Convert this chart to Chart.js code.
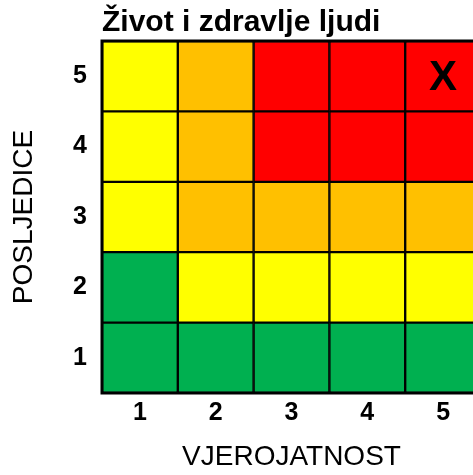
<!DOCTYPE html>
<html>
<head>
<meta charset="utf-8">
<script src="https://cdn.jsdelivr.net/npm/chart.js@4/dist/chart.umd.min.js"></script>
<style>
  html, body { margin: 0; padding: 0; background: #fff; overflow: hidden; }
</style>
</head>
<body>
<canvas id="matrica" width="484" height="475"></canvas>
<script>
// vjerojatnost (x) i posljedice (y)
var vjerojatnost = ["1", "2", "3", "4", "5"];
var posljedice = ["1", "2", "3", "4", "5"];

// razina rizika po redu posljedica (1 = nisko ... 4 = visoko)
var red1 = [1, 1, 1, 1, 1];
var red2 = [1, 2, 2, 2, 2];
var red3 = [2, 3, 3, 3, 3];
var red4 = [2, 3, 4, 4, 4];
var red5 = [2, 3, 4, 4, 4];

// oznacena celija [vjerojatnost, posljedice]
var oznaka = [5, 5];

var boje = { 1: "#00B050", 2: "#FFFF00", 3: "#FFC000", 4: "#FF0000" };
var font = "'Liberation Sans', Arial, sans-serif";

var redovi = [red1, red2, red3, red4, red5];
var datasets = redovi.map(function (red, i) {
  return {
    label: "Posljedice " + posljedice[i],
    data: red.map(function () { return 1; }),
    backgroundColor: red.map(function (r) { return boje[r]; }),
    borderColor: "#000",
    borderWidth: 1.5,
    borderSkipped: false,
    barPercentage: 1,
    categoryPercentage: 1,
  };
});

// okvir matrice i oznaka X
var oznakaPlugin = {
  id: "oznaka",
  afterDatasetsDraw: function (chart) {
    var ctx = chart.ctx;
    var a = chart.chartArea;
    var x = chart.scales.x.getPixelForValue(oznaka[0] - 1);
    var y = chart.scales.y.getPixelForValue(oznaka[1] - 0.5);
    ctx.save();
    ctx.strokeStyle = "#000";
    ctx.lineWidth = 3;
    ctx.strokeRect(a.left, a.top, a.right - a.left, a.bottom - a.top);
    ctx.fillStyle = "#000";
    ctx.font = "bold 42px " + font;
    ctx.textAlign = "center";
    ctx.textBaseline = "middle";
    ctx.fillText("X", x, y + 2);
    ctx.restore();
  },
};

var ctx = document.getElementById("matrica").getContext("2d");
var myChart = new Chart(ctx, {
  type: "bar",
  data: {
    labels: vjerojatnost,
    datasets: datasets,
  },
  plugins: [oznakaPlugin],
  options: {
    responsive: false,
    animation: false,
    layout: { padding: { left: 0, right: 3, top: 0, bottom: 0 } },
    scales: {
      x: {
        stacked: true,
        grid: { display: false, drawTicks: false },
        border: { display: false },
        ticks: { color: "#000", padding: 5, font: { family: font, size: 25, weight: "bold" } },
        title: {
          display: true,
          text: "VJEROJATNOST",
          color: "#000",
          padding: { top: 0, bottom: 1 },
          font: { family: font, size: 28 },
        },
        afterFit: function (scale) { scale.height = 82; },
      },
      y: {
        stacked: true,
        min: 0,
        max: 5,
        grid: { display: false, drawTicks: false },
        border: { display: false },
        afterBuildTicks: function (scale) {
          scale.ticks = posljedice.map(function (p, i) { return { value: i + 0.5 }; });
        },
        ticks: {
          color: "#000",
          padding: 15,
          font: { family: font, size: 25, weight: "bold" },
          callback: function (value) { return posljedice[Math.floor(value)]; },
        },
        title: {
          display: true,
          text: "POSLJEDICE",
          color: "#000",
          padding: { top: 7, bottom: 0 },
          font: { family: font, size: 28 },
        },
        afterFit: function (scale) { scale.width = 102; },
      },
    },
    plugins: {
      legend: { display: false },
      tooltip: { enabled: false },
      title: {
        display: true,
        text: "Život i zdravlje ljudi",
        align: "start",
        fullSize: false,
        color: "#000",
        padding: { top: 5, bottom: 0 },
        font: { family: font, size: 30, weight: "bold" },
      },
    },
  },
});
</script>
</body>
</html>
